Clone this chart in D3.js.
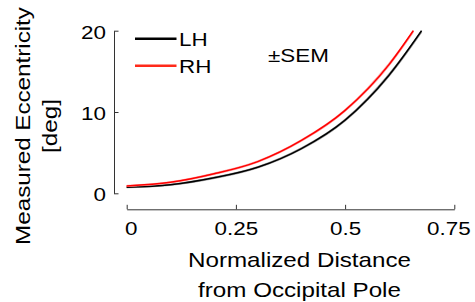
<!DOCTYPE html>
<html>
<head>
<meta charset="utf-8">
<script src="https://cdn.jsdelivr.net/npm/d3@7"></script>
<style>
  body { margin: 0; background: #fff; }
  svg text { font-family: "Liberation Sans", Arial, Helvetica, sans-serif; fill: #000; }
</style>
</head>
<body>
<div id="chart"></div>
<script>
// values
const distance = [0, 0.1, 0.2, 0.3, 0.4, 0.5, 0.6];
const lhEcc = [0.75, 1.05, 1.9, 3.2, 5.5, 9.0, 14.5];
const rhEcc = [0.9, 1.35, 2.4, 3.9, 6.5, 10.2, 15.8];
const lhEnd = [0.675, 20];
const rhEnd = [0.656, 20];
const semLH = [0.08, 0.08, 0.1, 0.1, 0.12, 0.15, 0.2, 0.25];
const semRH = [0.08, 0.08, 0.1, 0.1, 0.12, 0.15, 0.2, 0.25];
const xTicks = [0, 0.25, 0.5, 0.75];
const xTickLabels = ["0", "0.25", "0.5", "0.75"];
const yTicks = [0, 10, 20];
const legendNames = ["LH", "RH"];

const width = 475, height = 302;
const stretch = 1.18; // glyphs in the figure are wider than tall

const svg = d3.select("#chart").append("svg")
    .attr("width", width)
    .attr("height", height);

const x = d3.scaleLinear().domain([0, 0.75]).range([126.7, 454.3]);
const y = d3.scaleLinear().domain([0, 20]).range([193.3, 30.7]);

function series(vals, end, sem) {
    const pts = distance.map((d, i) => ({ d: d, v: vals[i] }));
    pts.push({ d: end[0], v: end[1] });
    pts.forEach((p, i) => p.s = sem[i]);
    return pts;
}

const lh = series(lhEcc, lhEnd, semLH);
const rh = series(rhEcc, rhEnd, semRH);

const line = d3.line()
    .x(p => x(p.d))
    .y(p => y(p.v))
    .curve(d3.curveMonotoneX);

const band = d3.area()
    .x(p => x(p.d))
    .y0(p => y(p.v - p.s))
    .y1(p => y(Math.min(20, p.v + p.s)))
    .curve(d3.curveMonotoneX);

// SEM bands + lines
[[lh, "#000", "#a0a0a0"], [rh, "#ff0000", "#ffa0a0"]].forEach(([data, col, light]) => {
    svg.append("path").datum(data)
        .attr("d", band)
        .attr("fill", light)
        .attr("stroke", light)
        .attr("stroke-width", 0.8);
    svg.append("path").datum(data)
        .attr("d", line)
        .attr("fill", "none")
        .attr("stroke", col)
        .attr("stroke-width", 1.5);
});

// axes, MATLAB-like with ticks pointing in
const xAxis = svg.append("g")
    .attr("transform", "translate(0,209.3)")
    .call(d3.axisBottom(x).tickValues(xTicks)
        .tickFormat((d, i) => xTickLabels[i])
        .tickSize(-4.5).tickSizeOuter(0).tickPadding(12));

const yAxis = svg.append("g")
    .attr("transform", "translate(114,0)")
    .call(d3.axisLeft(y).tickValues(yTicks)
        .tickSize(-4.5).tickSizeOuter(0).tickPadding(8));

[xAxis, yAxis].forEach(g => {
    g.select(".domain").attr("stroke", "#333");
    g.selectAll(".tick line").attr("stroke", "#333");
    g.selectAll(".tick text")
        .attr("font-size", 19)
        .attr("fill", "#000");
});

// first and last x labels sit a little inside their ticks
const xShift = [4, 0, 0, -6];
xAxis.selectAll(".tick text")
    .attr("x", (d, i) => xShift[i] / stretch)
    .attr("transform", `scale(${stretch},1)`);
yAxis.selectAll(".tick text")
    .attr("x", -8 / stretch)
    .attr("dy", "0.4em")
    .attr("transform", `scale(${stretch},1)`);

function label(txt, px, py, size, anchor, rotate) {
    svg.append("text")
        .attr("transform", `translate(${px},${py}) rotate(${rotate || 0}) scale(${stretch},1)`)
        .attr("font-size", size)
        .attr("text-anchor", anchor)
        .text(txt);
}

// axis titles
label("Normalized Distance", 299.5, 267.3, 20.5, "middle");
label("from Occipital Pole", 299.5, 296.7, 20.5, "middle");
label("Measured Eccentricity", 30, 126, 20.5, "middle", -90);
label("[deg]", 57, 126, 20.5, "middle", -90);

// legend
const legendColors = ["#000", "#ff2a1a"];
legendNames.forEach((name, i) => {
    const ly = 38.8 + i * 26.9;
    svg.append("line")
        .attr("x1", 135).attr("x2", 176.5)
        .attr("y1", ly).attr("y2", ly)
        .attr("stroke", legendColors[i])
        .attr("stroke-width", 2.6);
    label(name, 179, ly + 6.9, 19, "start");
});

label("\u00b1SEM", 268, 62.3, 19, "start");
</script>
</body>
</html>
